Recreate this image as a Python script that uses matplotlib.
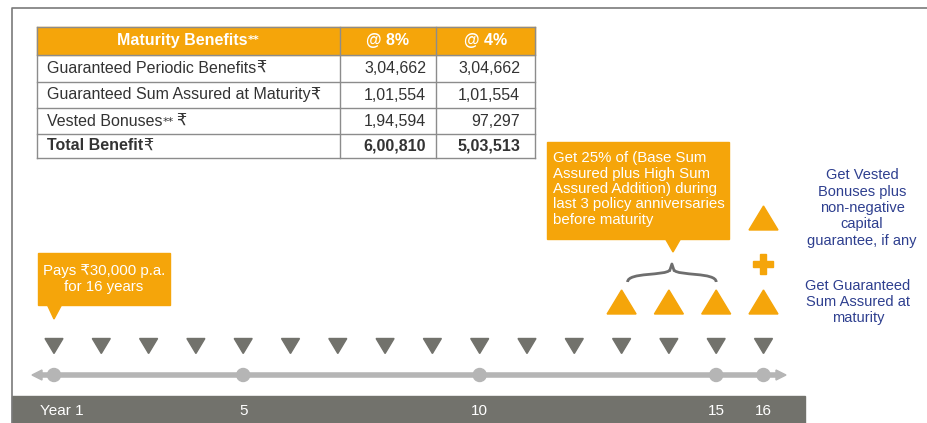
import matplotlib.pyplot as plt
from matplotlib.patches import Polygon, Rectangle, Circle
from matplotlib.path import Path
from matplotlib.patches import PathPatch

plt.rcParams['font.family'] = ['Liberation Sans', 'DejaVu Sans']

# data
years = list(range(1, 17))
label_years = [1, 5, 10, 15, 16]
label_text = ["Year 1", "5", "10", "15", "16"]
anniv_years = [13, 14, 15]
maturity_year = 16

col_head = ["Maturity Benefits", "@ 8%", "@ 4%"]
row_names = ["Guaranteed Periodic Benefits", "Guaranteed Sum Assured at Maturity",
             "Vested Bonuses", "Total Benefit"]
row_stars = [False, False, True, False]
at8 = ["3,04,662", "1,01,554", "1,94,594", "6,00,810"]
at4 = ["3,04,662", "1,01,554", "97,297", "5,03,513"]

ORANGE = '#f5a50a'
DARK = '#72726c'
LIGHT = '#b5b5b5'
BLUE = '#2e3f8f'
TXT = '#333333'
FS = 11.5

def xpos(y):
    return 54 + (y - 1) * 47.3

fig = plt.figure(figsize=(9.27, 4.23), dpi=100)
ax = fig.add_axes([0, 0, 1, 1])
ax.set_xlim(0, 927)
ax.set_ylim(423, 0)
ax.axis('off')

# frame
ax.plot([12, 12, 927], [423, 8, 8], color='#7a7a7a', lw=1.2)

# table
cx = [37, 340, 436, 535]
ry = [27, 55, 82, 108, 134, 158]
ax.add_patch(Rectangle((cx[0], ry[0]), cx[3] - cx[0], ry[1] - ry[0], color=ORANGE, zorder=1))
for x in cx:
    ax.plot([x, x], [ry[0], ry[-1]], color='#8c8c8c', lw=1, zorder=2)
for y in ry:
    ax.plot([cx[0], cx[3]], [y, y], color='#8c8c8c', lw=1, zorder=2)
hm = (ry[0] + ry[1]) / 2
h = ax.text(248, hm, col_head[0], color='white', fontsize=FS, fontweight='bold', ha='right', va='center')
ax.annotate("**", xy=(1, 0.6), xycoords=h, color='white', fontsize=8, family='DejaVu Sans',
            fontweight='bold', ha='left', va='center')
ax.text((cx[1] + cx[2]) / 2, hm, col_head[1], color='white', fontsize=FS, fontweight='bold', ha='center', va='center')
ax.text((cx[2] + cx[3]) / 2, hm, col_head[2], color='white', fontsize=FS, fontweight='bold', ha='center', va='center')
for i in range(4):
    ym = (ry[i + 1] + ry[i + 2]) / 2
    w = 'bold' if i == 3 else 'normal'
    t = ax.text(47, ym, row_names[i], color=TXT, fontsize=FS, fontweight=w, ha='left', va='center')
    if row_stars[i]:
        s = ax.annotate("**", xy=(1, 0.45), xycoords=t, color=TXT, fontsize=8, family='DejaVu Sans',
                        ha='left', va='center')
        ax.annotate("\u20b9", xy=(1, 0.5), xycoords=s, xytext=(2, 0), textcoords='offset points',
                    color=TXT, fontsize=FS, ha='left', va='center')
    else:
        ax.annotate("\u20b9", xy=(1, 0.5), xycoords=t, color=TXT, fontsize=FS, ha='left', va='center')
    ax.text(426, ym, at8[i], color=TXT, fontsize=FS, fontweight=w, ha='right', va='center')
    ax.text(520, ym, at4[i], color=TXT, fontsize=FS, fontweight=w, ha='right', va='center')

# bottom bar
ax.add_patch(Rectangle((12, 396), 793, 27, color=DARK, zorder=1))
for yr, t in zip(label_years, label_text):
    if yr == 1:
        ax.text(40, 411, t, color='white', fontsize=11, ha='left', va='center')
    else:
        ax.text(xpos(yr), 411, t, color='white', fontsize=11, ha='center', va='center')

# timeline
ax.plot([40, 778], [375, 375], color=LIGHT, lw=4, solid_capstyle='butt', zorder=2)
ax.add_patch(Polygon([[32, 375], [42, 370], [42, 380]], color=LIGHT, zorder=2))
ax.add_patch(Polygon([[786, 375], [776, 370], [776, 380]], color=LIGHT, zorder=2))
for yr in label_years:
    ax.add_patch(Circle((xpos(yr), 375), 6.5, color=LIGHT, zorder=3))

def tri(x, y, w, h, up, color):
    if up:
        pts = [[x - w / 2, y + h / 2], [x + w / 2, y + h / 2], [x, y - h / 2]]
    else:
        pts = [[x - w / 2, y - h / 2], [x + w / 2, y - h / 2], [x, y + h / 2]]
    ax.add_patch(Polygon(pts, color=color, zorder=3))

for yr in years:
    tri(xpos(yr), 346, 18, 15, False, DARK)
for yr in anniv_years + [maturity_year]:
    tri(xpos(yr), 302, 29, 24, True, ORANGE)
tri(xpos(maturity_year), 218, 29, 24, True, ORANGE)
# plus
px = xpos(maturity_year)
ax.add_patch(Rectangle((px - 10, 261), 20, 6, color=ORANGE, zorder=3))
ax.add_patch(Rectangle((px - 3, 254), 6, 20, color=ORANGE, zorder=3))

# brace over anniversaries
bl, br = xpos(anniv_years[0]) + 6, xpos(anniv_years[-1])
bm = (bl + br) / 2
for a, b in [(bl, -1), (br, 1)]:
    ax.add_patch(PathPatch(Path([(a, 282), (a, 272), (bm + b * 6, 276), (bm + b * 2, 270)],
                                [Path.MOVETO, Path.CURVE4, Path.CURVE4, Path.CURVE4]),
                           fc='none', ec='#6e6e6e', lw=2, zorder=3))
ax.plot([bm - 2, bm, bm + 2], [270, 264, 270], color='#6e6e6e', lw=2, zorder=3)

# callout right
ax.add_patch(Rectangle((547, 142), 182, 97, color=ORANGE, zorder=2))
ax.add_patch(Polygon([[665, 238], [681, 238], [673, 252]], color=ORANGE, zorder=2))
ax.text(553, 189, "Get 25% of (Base Sum\nAssured plus High Sum\nAssured Addition) during\nlast 3 policy anniversaries\nbefore maturity",
        color='white', fontsize=10.8, ha='left', va='center', linespacing=1.12)

# callout left
ax.add_patch(Rectangle((38, 253), 132, 52, color=ORANGE, zorder=2))
ax.add_patch(Polygon([[47, 304], [62, 304], [54, 319]], color=ORANGE, zorder=2))
ax.text(104, 279, "Pays \u20b930,000 p.a.\nfor 16 years", color='white', fontsize=10.8,
        ha='center', va='center', linespacing=1.15)

# blue notes
ax.text(862, 208, "Get Vested\nBonuses plus\nnon-negative\ncapital\nguarantee, if any",
        color=BLUE, fontsize=10.5, ha='center', va='center', linespacing=1.22)
ax.text(858, 302, "Get Guaranteed\nSum Assured at\nmaturity",
        color=BLUE, fontsize=10.5, ha='center', va='center', linespacing=1.22)

fig.savefig('out.png', dpi=100)
